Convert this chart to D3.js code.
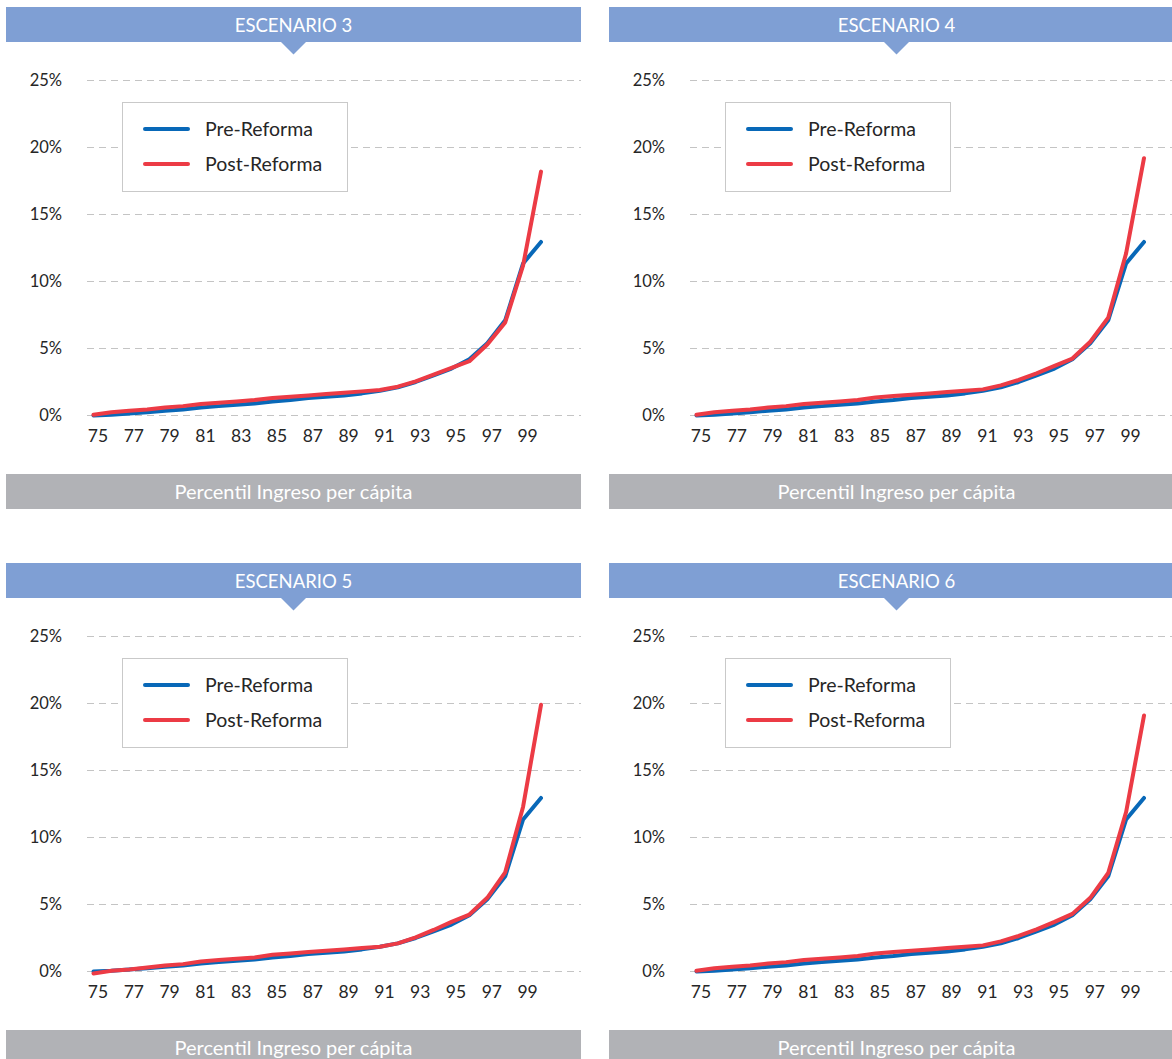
<!DOCTYPE html>
<html>
<head>
<meta charset="utf-8">
<script src="https://cdn.jsdelivr.net/npm/d3@7"></script>
<style>
  html, body { margin: 0; padding: 0; background: #fff; }
  svg { display: block; font-family: Lato, "Open Sans", sans-serif; }
</style>
</head>
<body>
<svg id="chart" width="1172" height="1059"></svg>
<script>
// Percentiles on the horizontal axis
const percentiles = d3.range(75, 101);
const xTickLabels = [75, 77, 79, 81, 83, 85, 87, 89, 91, 93, 95, 97, 99];
const yTicks = [0, 5, 10, 15, 20, 25];
const seriesNames = ["Pre-Reforma", "Post-Reforma"];
const scenarioTitles = ["ESCENARIO 3", "ESCENARIO 4", "ESCENARIO 5", "ESCENARIO 6"];
const axisTitle = "Percentil Ingreso per cápita";

// Pre-reform share (%) per percentile, common to every scenario
const preReforma = [0.0, 0.05, 0.15, 0.25, 0.35, 0.45, 0.6, 0.7, 0.8, 0.9, 1.05, 1.15, 1.3,
  1.4, 1.5, 1.65, 1.85, 2.1, 2.5, 3.0, 3.5, 4.2, 5.4, 7.1, 11.35, 12.95];

// Post-reform share (%) per percentile, one array per scenario
const postEscenario3 = [0.05, 0.25, 0.35, 0.45, 0.6, 0.7, 0.85, 0.95, 1.05, 1.15, 1.3, 1.4, 1.5,
  1.6, 1.7, 1.8, 1.9, 2.15, 2.55, 3.05, 3.55, 4.05, 5.3, 6.95, 11.2, 18.2];
const postEscenario4 = [0.05, 0.25, 0.35, 0.45, 0.6, 0.7, 0.85, 0.95, 1.05, 1.15, 1.35, 1.45, 1.55,
  1.65, 1.75, 1.85, 1.95, 2.25, 2.65, 3.15, 3.7, 4.25, 5.5, 7.3, 12.1, 19.2];
const postEscenario5 = [-0.15, 0.05, 0.15, 0.3, 0.45, 0.55, 0.75, 0.85, 0.95, 1.05, 1.25, 1.35, 1.45,
  1.55, 1.65, 1.75, 1.85, 2.1, 2.55, 3.1, 3.7, 4.25, 5.5, 7.4, 12.3, 19.9];
const postEscenario6 = [0.05, 0.25, 0.35, 0.45, 0.6, 0.7, 0.85, 0.95, 1.05, 1.15, 1.35, 1.45, 1.55,
  1.65, 1.75, 1.85, 1.95, 2.25, 2.65, 3.15, 3.7, 4.3, 5.5, 7.35, 11.9, 19.1];

const postSeries = [postEscenario3, postEscenario4, postEscenario5, postEscenario6];

const colors = { pre: "#0868b8", post: "#ec3b45" };
const headerFill = "#7f9fd4";
const footerFill = "#b1b2b6";
const textColor = "#262626";

// Panel geometry (local coordinates)
const panelW = 575;
const panelOffsets = [[6, 7], [609, 7], [6, 563], [609, 563]];

const x = d3.scaleLinear().domain([75, 100]).range([87.5, 535]);
const y = d3.scaleLinear().domain([0, 25]).range([408.5, 73.5]);

const svg = d3.select("#chart");

scenarioTitles.forEach((title, i) => {
  const [ox, oy] = panelOffsets[i];
  const g = svg.append("g").attr("transform", `translate(${ox},${oy})`);

  // Header band with pointer
  g.append("rect").attr("x", 0).attr("y", 0).attr("width", panelW).attr("height", 35)
    .attr("fill", headerFill);
  g.append("path")
    .attr("d", `M${panelW / 2 - 12.5},35 L${panelW / 2 + 12.5},35 L${panelW / 2},47.5 Z`)
    .attr("fill", headerFill);
  g.append("text").attr("x", panelW / 2).attr("y", 24.5).attr("text-anchor", "middle")
    .attr("fill", "#fff").attr("font-size", 18.5).text(title);

  // Horizontal dashed gridlines
  g.append("g").selectAll("line").data(yTicks).join("line")
    .attr("x1", 81).attr("x2", panelW)
    .attr("y1", d => y(d)).attr("y2", d => y(d))
    .attr("stroke", "#c4c4c4").attr("stroke-width", 1.2)
    .attr("stroke-dasharray", "7,5");

  // Y axis labels
  const yAxis = d3.axisLeft(y).tickValues(yTicks).tickSize(0).tickPadding(0)
    .tickFormat(d => d + "%");
  g.append("g").attr("transform", "translate(56,0)").call(yAxis)
    .call(s => s.select(".domain").remove())
    .selectAll("text").attr("font-size", 16.5).attr("fill", textColor)
    .attr("font-family", "Lato, 'Open Sans', sans-serif");

  // X axis labels
  const xAxis = d3.axisBottom(x).tickValues(xTickLabels).tickSize(0).tickPadding(0)
    .tickFormat(d3.format("d"));
  g.append("g").attr("transform", `translate(4,${y(0) + 14})`).call(xAxis)
    .call(s => s.select(".domain").remove())
    .selectAll("text").attr("font-size", 17.5).attr("fill", textColor)
    .attr("font-family", "Lato, 'Open Sans', sans-serif");

  // Lines
  const line = d3.line().x((d, j) => x(percentiles[j])).y(d => y(d));
  g.append("path").datum(preReforma).attr("d", line)
    .attr("fill", "none").attr("stroke", colors.pre).attr("stroke-width", 4)
    .attr("stroke-linejoin", "round").attr("stroke-linecap", "round");
  g.append("path").datum(postSeries[i]).attr("d", line)
    .attr("fill", "none").attr("stroke", colors.post).attr("stroke-width", 4)
    .attr("stroke-linejoin", "round").attr("stroke-linecap", "round");

  // Legend
  const lg = g.append("g").attr("transform", "translate(116,95)");
  lg.append("rect").attr("x", 0.5).attr("y", 0.5).attr("width", 225).attr("height", 89)
    .attr("fill", "#fff").attr("stroke", "#c9c9c9").attr("stroke-width", 1);
  [colors.pre, colors.post].forEach((c, k) => {
    const ly = 27 + k * 35;
    lg.append("line").attr("x1", 23).attr("x2", 66).attr("y1", ly).attr("y2", ly)
      .attr("stroke", c).attr("stroke-width", 4).attr("stroke-linecap", "round");
    lg.append("text").attr("x", 83).attr("y", ly).attr("dy", "0.35em")
      .attr("font-size", 19.5).attr("fill", textColor).text(seriesNames[k]);
  });

  // Footer band with axis title
  g.append("rect").attr("x", 0).attr("y", 467).attr("width", panelW).attr("height", 35)
    .attr("fill", footerFill);
  g.append("text").attr("x", panelW / 2).attr("y", 492).attr("text-anchor", "middle")
    .attr("fill", "#fff").attr("font-size", 20).text(axisTitle);
});
</script>
</body>
</html>
